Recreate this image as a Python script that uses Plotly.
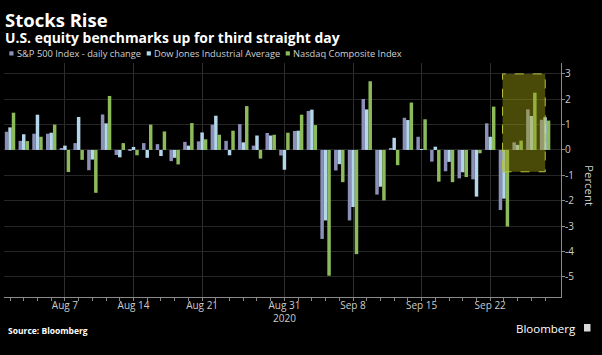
import plotly.graph_objects as go

# ---- data (trading days, Aug 3 – Sep 28, 2020) ----
dates = ["Aug 3", "Aug 4", "Aug 5", "Aug 6", "Aug 7",
         "Aug 10", "Aug 11", "Aug 12", "Aug 13", "Aug 14",
         "Aug 17", "Aug 18", "Aug 19", "Aug 20", "Aug 21",
         "Aug 24", "Aug 25", "Aug 26", "Aug 27", "Aug 28",
         "Aug 31",
         "Sep 1", "Sep 2", "Sep 3", "Sep 4",
         "Sep 8", "Sep 9", "Sep 10", "Sep 11",
         "Sep 14", "Sep 15", "Sep 16", "Sep 17", "Sep 18",
         "Sep 21", "Sep 22", "Sep 23", "Sep 24", "Sep 25",
         "Sep 28"]

spx = [0.72, 0.36, 0.64, 0.64, 0.06,
       0.27, -0.80, 1.40, -0.20, -0.02,
       0.27, 0.23, -0.44, 0.32, 0.34,
       1.00, 0.36, 1.02, 0.17, 0.67,
       -0.22,
       0.75, 1.54, -3.51, -0.81,
       -2.78, 2.01, -1.76, 0.05,
       1.27, 0.52, -0.46, -0.84, -1.12,
       -1.16, 1.05, -2.37, 0.30, 1.60,
       1.19]

dow = [0.89, 0.62, 1.39, 0.68, 0.17,
       1.30, -0.38, 1.05, -0.29, 0.12,
       -0.31, -0.24, -0.31, 0.17, 0.69,
       1.35, -0.21, 0.30, 0.57, 0.57,
       -0.78,
       0.76, 1.59, -2.78, -0.56,
       -2.25, 1.60, -1.45, 0.48,
       1.18, 0.01, 0.13, -0.47, -0.88,
       -1.84, 0.52, -1.92, 0.20, 1.34,
       1.29]

nasdaq = [1.47, 0.35, 0.52, 1.00, -0.87,
          -0.39, -1.69, 2.13, 0.27, -0.21,
          1.00, 0.73, -0.57, 1.06, 0.42,
          0.60, 0.76, 1.73, -0.34, 0.60,
          0.68,
          1.39, 0.98, -4.96, -1.27,
          -4.11, 2.71, -1.99, -0.60,
          1.87, 1.21, -1.25, -1.27, -1.07,
          -0.13, 1.71, -3.02, 0.37, 2.26,
          1.16]

series_names = ["S&P 500 Index - daily change",
                "Dow Jones Industrial Average",
                "Nasdaq Composite Index"]
series_colors = ["#8b90b8", "#b3d6ea", "#8dbb5c"]

tick_dates = ["Aug 7", "Aug 14", "Aug 21", "Aug 31", "Sep 8", "Sep 15", "Sep 22"]
tick_text = ["Aug 7", "Aug 14", "Aug 21", "Aug 31<br>2020", "Sep 8", "Sep 15", "Sep 22"]
y_ticks = [3, 2, 1, 0, -1, -2, -3, -4, -5]

highlight_start = "Sep 23"
highlight_top = 3.0
highlight_bottom = -0.86

# ---- figure ----
W, H = 602, 355
L, R, T, B = 4, 41, 63, 58
PW, PH = W - L - R, H - T - B

def px(x):
    return (x - L) / PW

def py(y):
    return (H - B - y) / PH

idx = list(range(len(dates)))
fig = go.Figure()
for name, vals, col in zip(series_names, [spx, dow, nasdaq], series_colors):
    fig.add_trace(go.Bar(x=idx, y=vals, name=name, marker_color=col,
                         marker_line_width=0, showlegend=False))

FONT = "Open Sans"
hs = dates.index(highlight_start)
fig.add_shape(type="rect", xref="x", yref="y",
              x0=hs - 0.1, x1=len(dates) - 0.99,
              y0=highlight_bottom, y1=highlight_top,
              fillcolor="rgba(165,165,18,0.45)",
              line=dict(color="#b8c43a", width=1, dash="dash"),
              layer="above")

ann = []
ann.append(dict(text="<span style='font-size:18.5px'><b>Stocks Rise</b></span><br>"
                     "<span style='font-size:13.9px'><b>U.S. equity benchmarks up for third straight day</b></span>",
                x=px(3.2), y=py(5), xanchor="left", yanchor="top", align="left",
                font=dict(family=FONT, size=12, color="#ffffff")))
leg_x = [9.3, 146.7, 285.7]
for lx, name, col in zip(leg_x, series_names, series_colors):
    fig.add_shape(type="rect", xref="paper", yref="paper",
                  x0=px(lx), x1=px(lx + 4.2), y0=py(55.5), y1=py(51.3),
                  fillcolor=col, line_width=0)
    ann.append(dict(text=name, x=px(lx + 5.5), y=py(53.5), xanchor="left", yanchor="middle",
                    font=dict(family=FONT, size=9.3, color="#d0d0d0")))
ann.append(dict(text="Percent", x=px(590), y=py(185), xanchor="center", yanchor="middle",
                textangle=90, font=dict(family=FONT, size=11.5, color="#d0d0d0")))
ann.append(dict(text="<b>Source: Bloomberg</b>", x=px(6), y=py(330), xanchor="left", yanchor="middle",
                font=dict(family=FONT, size=8.5, color="#ffffff")))
ann.append(dict(text="Bloomberg", x=px(578), y=py(328), xanchor="right", yanchor="middle",
                font=dict(family=FONT, size=11.5, color="#ffffff")))
fig.add_shape(type="rect", xref="paper", yref="paper",
              x0=px(584), x1=px(590.5), y0=py(331.5), y1=py(324),
              fillcolor="#d8d8d8", line_width=0)
for a in ann:
    a.update(xref="paper", yref="paper", showarrow=False)

fig.update_layout(
    width=W, height=H,
    margin=dict(l=L, r=R, t=T, b=B, pad=0, autoexpand=False),
    paper_bgcolor="#000000", plot_bgcolor="#000000",
    barmode="group", bargap=0.24, bargroupgap=0,
    annotations=ann,
    font=dict(family=FONT, color="#cccccc"),
    xaxis=dict(range=[-0.44, len(dates) + 0.16],
               automargin=False,
               tickmode="array",
               tickvals=[dates.index(d) for d in tick_dates],
               ticktext=tick_text,
               tickfont=dict(family=FONT, size=10, color="#cccccc"),
               ticks="outside", ticklen=3, tickcolor="#888888",
               ticklabelstandoff=-4,
               showgrid=True, gridcolor="#2e2e2e", gridwidth=1,
               showline=True, linecolor="#8a8a8a", linewidth=1,
               zeroline=False,
               minor=dict(tickmode="array", tickvals=idx, ticks="outside",
                          ticklen=3, tickcolor="#888888", showgrid=False)),
    yaxis=dict(side="right", range=[-5.80, 3.43],
               automargin=False,
               tickmode="array", tickvals=y_ticks,
               ticktext=[str(v) for v in y_ticks],
               tickfont=dict(family=FONT, size=10, color="#cccccc"),
               ticks="outside", ticklen=3, tickcolor="#888888",
               ticklabelstandoff=-2,
               showgrid=True, gridcolor="#262626", gridwidth=1,
               showline=True, linecolor="#8a8a8a", linewidth=1,
               zeroline=False),
)

fig.write_html("out.html", config={"displayModeBar": False},
               post_script="document.body.style.margin='0px';document.body.style.background='#000';")
